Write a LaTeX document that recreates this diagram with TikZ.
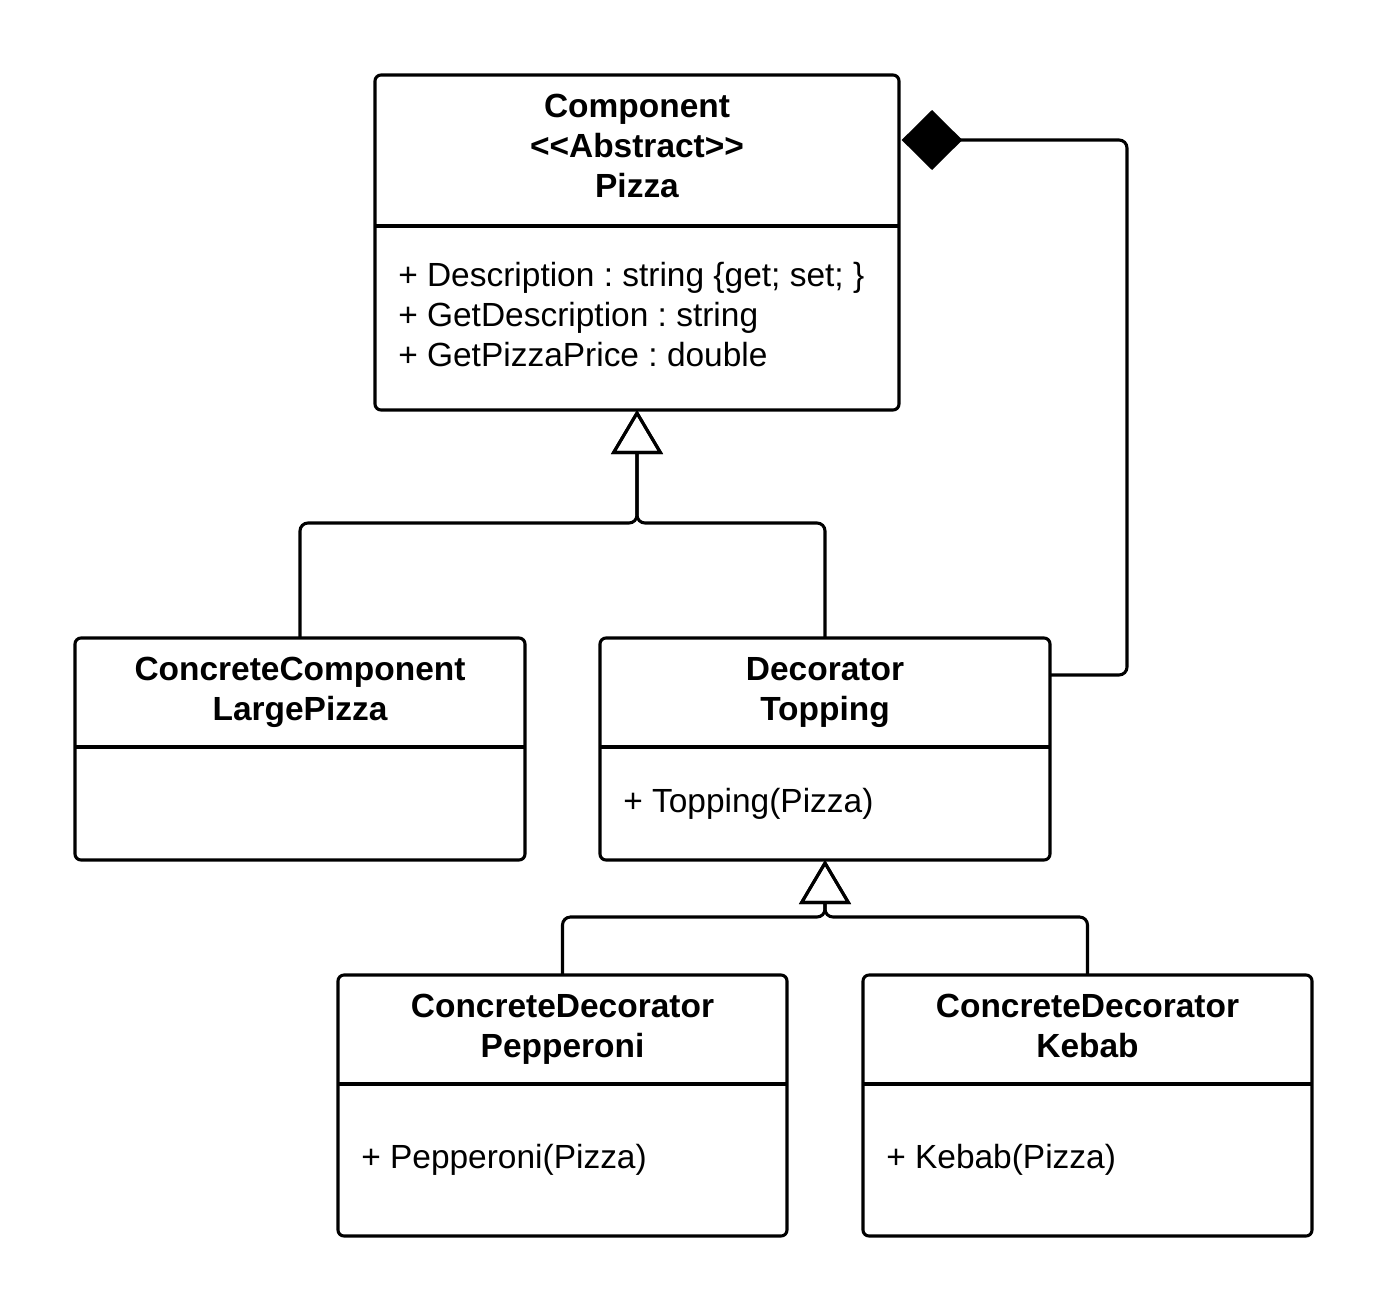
\documentclass[tikz,border=0pt]{standalone}
\usepackage{fontspec}
\setmainfont{Liberation Sans}[Ligatures=TeXOff]
\usetikzlibrary{arrows.meta}
\frenchspacing
\begin{document}
\begin{tikzpicture}[x=0.75pt, y=-0.75pt,
  classbox/.style={draw, line width=2.3pt, rounded corners=4.5pt, inner sep=0pt, outer sep=0pt},
  divider/.style={line width=2.3pt},
  conn/.style={line width=2.3pt, rounded corners=6pt},
  inherit/.style={conn, -{Triangle[open, length=33pt, width=38.5pt]}},
  aggr/.style={conn, -{Diamond[length=45.5pt, width=45pt]}},
  titletext/.style={font=\fontsize{25.1}{30}\selectfont\bfseries, align=center, inner sep=0pt},
  bodytext/.style={font=\fontsize{25.1}{30}\selectfont, align=left, inner sep=0pt, anchor=west}]
\fill[white] (0,0) rectangle (1388,1313);
\useasboundingbox (0,0) rectangle (1388,1313);

% class boxes
\node[classbox, minimum width=393pt, minimum height=251.25pt] (comp) at (637,242.5) {};
\node[classbox, minimum width=337.5pt, minimum height=166.5pt] (cc) at (300,749) {};
\node[classbox, minimum width=337.5pt, minimum height=166.5pt] (dec) at (825,749) {};
\node[classbox, minimum width=336.75pt, minimum height=195.75pt] (pep) at (562.5,1105.5) {};
\node[classbox, minimum width=336.75pt, minimum height=195.75pt] (keb) at (1087.5,1105.5) {};

% dividers
\draw[divider] (comp.west |- 0,226) -- (comp.east |- 0,226);
\draw[divider] (cc.west |- 0,747) -- (cc.east |- 0,747);
\draw[divider] (dec.west |- 0,747) -- (dec.east |- 0,747);
\draw[divider] (pep.west |- 0,1084) -- (pep.east |- 0,1084);
\draw[divider] (keb.west |- 0,1084) -- (keb.east |- 0,1084);

% titles
\node[titletext] (compT) at (637,149.5) {\strut Component\\\strut <<Abstract>>\\\strut Pizza};
\node[titletext] (ccT) at (300,692.5) {\strut ConcreteComponent\\\strut LargePizza};
\node[titletext] (decT) at (825,692.5) {\strut Decorator\\\strut Topping};
\node[titletext] (pepT) at (562.5,1029) {\strut ConcreteDecorator\\\strut Pepperoni};
\node[titletext] (kebT) at (1087.5,1029) {\strut ConcreteDecorator\\\strut Kebab};

% bodies
\node[bodytext] (compB) at (398,318.5) {\strut + Description : string \{get; set; \}\\\strut + GetDescription : string\\\strut + GetPizzaPrice : double};
\node[bodytext] (decB) at (623,804.5) {\strut + Topping(Pizza)};
\node[bodytext] (pepB) at (361,1160) {\strut + Pepperoni(Pizza)};
\node[bodytext] (kebB) at (886,1160) {\strut + Kebab(Pizza)};

% connectors
\coordinate (j1) at (637,523);
\coordinate (j2) at (825,917);
\coordinate (agg) at (1127,140);
\draw[inherit] (cc.north) |- (j1) -- (comp.south);
\draw[inherit] (dec.north) |- (j1) -- (comp.south);
\draw[inherit] (pep.north) |- (j2) -- (dec.south);
\draw[inherit] (keb.north) |- (j2) -- (dec.south);
\draw[aggr] (dec.east |- 0,675) -| (agg) -- ([xshift=2pt]comp.east |- agg);
\end{tikzpicture}
\end{document}
